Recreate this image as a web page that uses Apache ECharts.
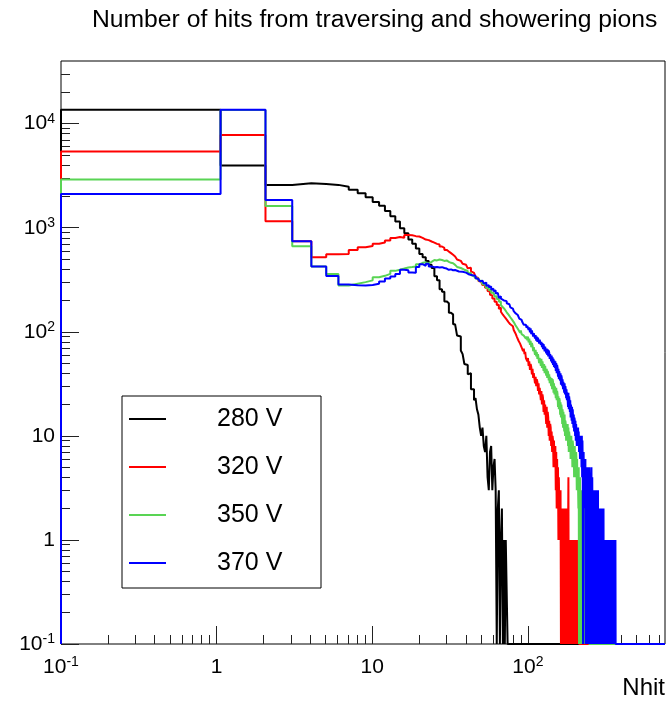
<!DOCTYPE html>
<html><head><meta charset="utf-8">
<script src="https://cdn.jsdelivr.net/npm/echarts@6/dist/echarts.min.js"></script>
<style>html,body{margin:0;padding:0;background:#fff}#c{width:668px;height:701px}</style>
</head><body><div id="c"></div>
<script>
const titleText = 'Number of hits from traversing and showering pions';
const xName = 'Nhit';
const seriesNames = ['280 V', '320 V', '350 V', '370 V'];
const seriesColors = ['#000000', '#ff0000', '#59d454', '#0000ff'];
const binStart = 0.06;
const binWidth = 1;
const xMin = 0.1, xMax = 760;
const yMin = 0.1, yMax = 40000;
const xMajor = [0.1, 1, 10, 100];
const xMinor = [0.2,0.3,0.4,0.5,0.6,0.7,0.8,0.9,2,3,4,5,6,7,8,9,20,30,40,50,60,70,80,90,200,300,400,500,600,700];
const yMajor = [0.1, 1, 10, 100, 1000, 10000];
const yMinor = [0.2,0.3,0.4,0.5,0.6,0.7,0.8,0.9,2,3,4,5,6,7,8,9,20,30,40,50,60,70,80,90,200,300,400,500,600,700,800,900,2000,3000,4000,5000,6000,7000,8000,9000,20000,30000];

// bin contents, bin i covers [binStart+i, binStart+i+1]
const h280 = [
13600,3970,2580,2680,2630,2580,2480,2320,2140,1960,
1770,1630,1450,1290,1145,990,885,770,700,630,
560,520,480,440,410,342,312,256,242,196,
188,152,147,118,116,92,90,66,61,49,
48,39,40,28,28,22,23,18,16,12,
10,12,8,7,10,4,3,7,8,3,
5,6,3,0,2,3,0,1,2,0,
1,0,1,1];
const h320 = [
5410,7780,1157,740,521,557,560,612,650,669,
700,721,754,795,813,800,850,845,830,823,
800,770,760,737,720,700,690,660,640,612,
590,570,550,530,510,495,480,465,450,440,
431,407,412,381,368,360,336,329,308,304,
296,281,282,265,266,246,244,227,224,209,
209,194,194,181,182,166,171,156,158,146,
150,138,141,131,134,124,128,118,123,113,
116,104,107,97,99,89,91,82,85,77,
79,71,73,65,69,61,64,56,58,52,
56,47,52,43,49,46,39,44,36,40,
39,32,37,30,35,33,27,32,25,29,
29,22,27,20,25,23,17,22,16,20,
20,13,19,12,17,15,10,14,9,13,
12,8,11,7,10,9,5,9,5,7,
8,3,7,2,6,2,5,1,4,2,
1,2,3,0,2,1,2,0,1,2,
1,0,1,2,0,1,1,0,2,1,
0,1,4,0,1,0,1,1,0,1,
0,1,0,1,0,0,1,0,1,0,
0,1,0,1,0,0,1,0,0,1,
0,0,1];
const h350 = [
2910,13500,1614,665,425,360,278,290,300,312,
335,345,360,385,395,405,415,420,425,445,
460,465,455,470,490,485,495,490,480,485,
470,460,455,440,430,420,410,400,395,385,
384,364,368,351,342,345,326,327,311,309,
302,287,285,279,263,265,251,252,236,239,
232,218,219,206,208,194,196,181,186,172,
176,164,167,154,158,146,150,138,141,131,
134,124,127,116,121,110,113,104,107,98,
103,95,99,92,96,89,93,86,90,83,
90,79,86,75,82,71,78,74,65,71,
70,60,67,58,64,55,61,59,50,56,
57,47,55,45,52,50,42,49,40,47,
46,38,44,36,42,40,34,39,32,37,
38,30,36,28,35,33,26,32,25,30,
31,23,29,22,27,25,19,24,18,23,
22,16,21,15,20,18,13,18,12,17,
17,11,16,10,14,13,9,13,9,12,
13,8,12,7,11,10,7,10,6,9,
10,6,9,5,9,8,5,8,4,7,
8,4,7,4,7,6,3,6,3,5,
5,2,5,0,3,2,4,1,3,0,
2,3,1,0,2,1,3,0,2,1,
0,2,1,0,1,2,0,1,0,1,
0,1,0,0,1,0,1];
const h370 = [
2105,13640,1845,740,423,344,285,280,278,282,
290,305,325,340,360,395,390,372,370,420,
446,430,450,425,418,420,415,418,410,405,
394,398,390,392,385,380,383,378,372,370,
368,355,366,349,341,346,329,322,324,306,
309,296,291,297,276,281,268,273,255,259,
246,249,233,236,229,212,219,208,211,200,
205,193,197,188,194,184,186,172,178,167,
170,158,161,151,156,145,141,146,134,139,
130,133,124,127,117,121,112,117,109,114,
116,104,110,99,108,95,103,101,90,97,
96,86,93,82,90,80,88,85,77,84,
84,75,80,71,78,68,76,74,65,72,
73,62,69,60,68,58,66,63,55,61,
61,52,59,50,57,48,55,46,53,45,
52,42,50,40,48,45,37,44,35,42,
42,34,40,31,38,36,30,35,28,33,
34,26,32,25,30,28,23,28,22,26,
27,19,26,18,24,22,17,22,15,20,
20,14,19,13,18,15,12,16,11,15,
14,10,14,9,13,11,8,12,8,11,
12,8,11,7,10,9,6,10,6,9,
10,5,10,4,9,5,0,6,7,3,
6,4,2,5,6,0,4,3,5,2,
4,0,3,5,1,4,0,2,5,3,
0,2,4,1,0,3,5,0,2,4,
1,0,3,2,0,1,3,0,2,1,
0,3,0,1,2,0,3,1,0,2,
0,1,3,0,1,2,0,1,0,2,
1,0,2,0,1,1,0,2,0,1,
0,2,1,0,1,0,2,0,1,0,
1,1,0,1,0,0,1,0,1,0,
1,0,0,1,0,1,0,0,1,0,
1,0,0,1,0,0,1,0,1,0,
0,1,0,0,1,0,0,1,0,0,
1,0,0,1,0,0,1,0,0,0,
0,0,0,0,0,1];
const histograms = [h280, h320, h350, h370];

function histPoints(counts) {
  const pts = [[xMin, yMin]];
  counts.forEach((c, i) => {
    const lo = Math.max(binStart + i * binWidth, xMin);
    const hi = binStart + (i + 1) * binWidth;
    const y = c > 0 ? c : yMin;
    pts.push([lo, y], [hi, y]);
  });
  pts.push([binStart + counts.length * binWidth, yMin], [xMax, yMin]);
  return pts;
}

const FONT = '"Liberation Sans", Arial, Helvetica, sans-serif';
function powLabel(v) {
  const e = Math.round(Math.log10(v));
  if (e === 0) return '1';
  if (e === 1) return '10';
  return '10{s|' + e + '}';
}
const labelRich = { s: { fontSize: 14, fontFamily: FONT, color: '#000', verticalAlign: 'top', lineHeight: 14 } };

const chart = echarts.init(document.getElementById('c'), null, { renderer: 'canvas' });
chart.setOption({
  animation: false,
  backgroundColor: '#fff',
  title: {
    text: titleText, left: 92, top: 8, padding: 0,
    textStyle: { fontFamily: FONT, fontSize: 24.7, fontWeight: 'normal', color: '#000' }
  },
  grid: { left: 61, right: 2, top: 61, bottom: 57, show: true, borderColor: '#000', borderWidth: 1, backgroundColor: 'transparent' },
  legend: {
    orient: 'vertical', left: 122, top: 396,
    padding: [10, 14, 12, 7], itemGap: 22, itemWidth: 37, itemHeight: 2,
    icon: 'rect', backgroundColor: '#fff', borderColor: '#000', borderWidth: 1,
    textStyle: { fontFamily: FONT, fontSize: 25, color: '#000', lineHeight: 26, padding: [0, 0, 0, 46], width: 90 },
    data: seriesNames
  },
  xAxis: [
    { type: 'log', logBase: 10, min: xMin, max: xMax, position: 'bottom',
      name: xName, nameLocation: 'end', nameGap: 0,
      nameTextStyle: { fontFamily: FONT, fontSize: 24, color: '#000', align: 'right', verticalAlign: 'top', padding: [32, 0, 0, 0] },
      axisLine: { show: false }, splitLine: { show: false }, minorTick: { show: false },
      axisTick: { inside: true, length: 18, lineStyle: { color: '#222', width: 1 }, customValues: xMajor },
      axisLabel: { customValues: xMajor, formatter: powLabel, rich: labelRich, fontFamily: FONT, fontSize: 21, color: '#000', margin: 11, lineHeight: 24 } },
    { type: 'log', logBase: 10, min: xMin, max: xMax, position: 'bottom',
      axisLine: { show: false }, splitLine: { show: false },
      axisTick: { inside: true, length: 9, lineStyle: { color: '#222', width: 1 }, customValues: xMinor },
      axisLabel: { show: false } }
  ],
  yAxis: [
    { type: 'log', logBase: 10, min: yMin, max: yMax, position: 'left',
      axisLine: { show: false }, splitLine: { show: false }, minorTick: { show: false },
      axisTick: { inside: true, length: 18, lineStyle: { color: '#222', width: 1 }, customValues: yMajor },
      axisLabel: { customValues: yMajor, formatter: powLabel, rich: labelRich, fontFamily: FONT, fontSize: 21, color: '#000', margin: 6, lineHeight: 24 } },
    { type: 'log', logBase: 10, min: yMin, max: yMax, position: 'left',
      axisLine: { show: false }, splitLine: { show: false },
      axisTick: { inside: true, length: 9, lineStyle: { color: '#222', width: 1 }, customValues: yMinor },
      axisLabel: { show: false } }
  ],
  series: histograms.map((h, k) => ({
    name: seriesNames[k], type: 'line', xAxisIndex: 0, yAxisIndex: 0,
    data: histPoints(h), showSymbol: false, symbol: 'none', clip: true,
    color: seriesColors[k],
    lineStyle: { color: seriesColors[k], width: 2 },
    itemStyle: { color: seriesColors[k] },
    emphasis: { disabled: true }
  }))
});
</script></body></html>
